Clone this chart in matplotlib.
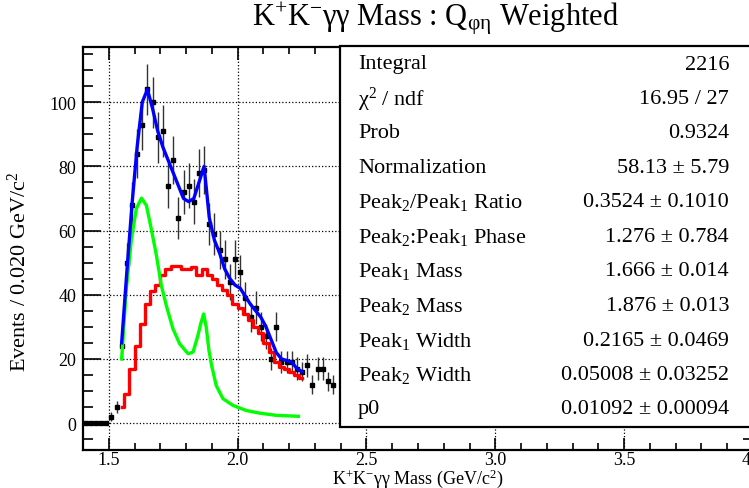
import numpy as np
import matplotlib
matplotlib.use("Agg")
import matplotlib.pyplot as plt
from matplotlib.patches import Rectangle
from matplotlib.ticker import MultipleLocator

plt.rcParams['font.family'] = ['Liberation Serif', 'DejaVu Serif']
plt.rcParams['mathtext.fontset'] = 'custom'
plt.rcParams['mathtext.rm'] = 'Liberation Serif'
plt.rcParams['mathtext.it'] = 'Liberation Serif:italic'

# histogram (bin width 0.020 GeV, centres 1.41 ... 2.37)
bin_width = 0.02
mass = np.round(np.arange(1.41, 2.38, bin_width), 3)
counts = [0, 0, 0, 0, 0, 2, 5, 24, 50, 68, 84, 93, 104, 100, 89, 91, 74, 82, 64, 72,
          74, 69, 78, 79, 62, 59, 54, 51, 44, 51, 47, 39, 33, 36, 30, 27, 20, 30, 19, 19,
          19, 17, 16, 18, 12, 17, 17, 13, 12]
errors = [0, 0, 0, 0, 0, 1.5, 2, 4.5, 6, 7, 7.5, 8, 8, 8, 8, 8, 7, 7.5, 6.5, 7,
          7, 7, 7.5, 7.5, 6.5, 6.5, 6, 6, 5.5, 6, 5.5, 5, 4.5, 5, 4.5, 4, 3.5, 4.5, 3.5, 3.5,
          3.5, 3.5, 3, 3.5, 3, 3.5, 3.5, 3, 3]

# fit components on the fit range (bins 1.55 ... 2.25)
fit_mass = np.round(np.arange(1.55, 2.26, bin_width), 3)
total_fit = [25, 47, 68, 86, 100, 104, 98, 91, 86, 82, 78, 74, 70, 69, 70, 75, 80, 64,
             57, 53, 48, 45, 43, 42, 39.5, 37, 35, 33, 30, 26, 22, 20, 19.5, 19, 17, 16]
background = [5, 9, 17, 24, 31, 37, 41, 43, 46, 48, 49, 49, 48, 48, 48.5, 46, 48, 46,
              45, 43, 41.5, 40, 37, 36, 34, 32, 30, 28, 25, 22, 19, 17.5, 17, 16, 15, 14]

# signal curve (smooth)
sig_mass = [1.55, 1.568, 1.588, 1.607, 1.627, 1.646, 1.665, 1.685, 1.704, 1.723, 1.749,
            1.775, 1.808, 1.827, 1.846, 1.857, 1.868, 1.878, 1.889, 1.899, 1.917, 1.943,
            1.982, 2.034, 2.085, 2.15, 2.236]
signal = [20, 41.8, 57.4, 66.8, 70.1, 67.8, 60.5, 52.2, 42.9, 36.7, 29.4,
          24.7, 21.6, 22.1, 27.3, 31, 34, 30, 22.5, 18, 11.7, 7.6,
          5.5, 3.9, 3.1, 2.4, 2.1]

stat_names = ["Integral", "χ$^{2}$ / ndf", "Prob", "Normalization",
              r"Peak$_{2}$/Peak$_{1}$ Ratio", r"Peak$_{2}$:Peak$_{1}$ Phase",
              r"Peak$_{1}$ Mass", r"Peak$_{2}$ Mass", r"Peak$_{1}$ Width",
              r"Peak$_{2}$ Width", "p0"]
stat_values = ["2216", "16.95 / 27", "0.9324", "58.13 ± 5.79", "0.3524 ± 0.1010",
               "1.276 ± 0.784", "1.666 ± 0.014", "1.876 ± 0.013", "0.2165 ± 0.0469",
               "0.05008 ± 0.03252", "0.01092 ± 0.00094"]

W, H = 749, 489
fig = plt.figure(figsize=(W / 100, H / 100), dpi=100)
ax = fig.add_axes([83 / W, 38 / H, (753 - 83) / W, (451 - 48) / H])

ax.errorbar(mass, counts, yerr=errors, fmt='s', color='black', ms=2.5,
            ecolor='#333333', elinewidth=1, capsize=0, zorder=3)
ax.plot(fit_mass, total_fit, color='#0000ff', lw=2.4, zorder=5)
ax.step(fit_mass, background, where='mid', color='#ff0000', lw=2.4, zorder=4)
ax.plot(sig_mass, signal, color='#00ff00', lw=2.4, zorder=4)

ax.set_xlim(1.4, 4.0)
ax.set_ylim(-8.4, 117.2)
ax.xaxis.set_major_locator(MultipleLocator(0.5))
ax.xaxis.set_minor_locator(MultipleLocator(0.1))
ax.yaxis.set_major_locator(MultipleLocator(20))
ax.yaxis.set_minor_locator(MultipleLocator(5))
ax.tick_params(which='both', direction='in', top=True, right=True, labelsize=13, width=1.2)
ax.tick_params(which='major', length=9)
ax.tick_params(which='minor', length=5)
ax.tick_params(axis='y', which='major', length=13)
ax.tick_params(axis='y', which='minor', length=7)
ax.tick_params(axis='y', pad=5)
ax.tick_params(axis='x', pad=1)
ax.grid(True, which='major', linestyle=':', color='black', linewidth=0.9)
for s in ax.spines.values():
    s.set_linewidth(1.6)

ax.set_xlabel(r"K$^{+}$K$^{-}$γγ Mass (GeV/c$^{2}$)", fontsize=13, labelpad=-1.5)
ax.set_ylabel(r"Events / 0.020 GeV/c$^{2}$", fontsize=16)
ax.yaxis.set_label_coords(-52 / 670, (451 - 272) / (451 - 48))

fig.text(436 / W, 1 - 19 / H, r"K$^{+}$K$^{-}$γγ Mass : Q$_{\mathrm{φη}}$ Weighted",
         fontsize=22, ha='center', va='center')

# stats box
box = Rectangle((340 / W, 1 - 428 / H), 0.6, (428 - 47) / H, transform=fig.transFigure,
                facecolor='white', edgecolor='black', linewidth=1.6, zorder=10)
fig.patches.append(box)
for i, (name, val) in enumerate(zip(stat_names, stat_values)):
    y = 1 - (65 + i * 34.5) / H
    fig.text(358 / W, y, name, fontsize=16, ha='left', va='center', zorder=11)
    fig.text(729 / W, y, val, fontsize=16, ha='right', va='center', zorder=11)

fig.savefig("out.png", dpi=100)
